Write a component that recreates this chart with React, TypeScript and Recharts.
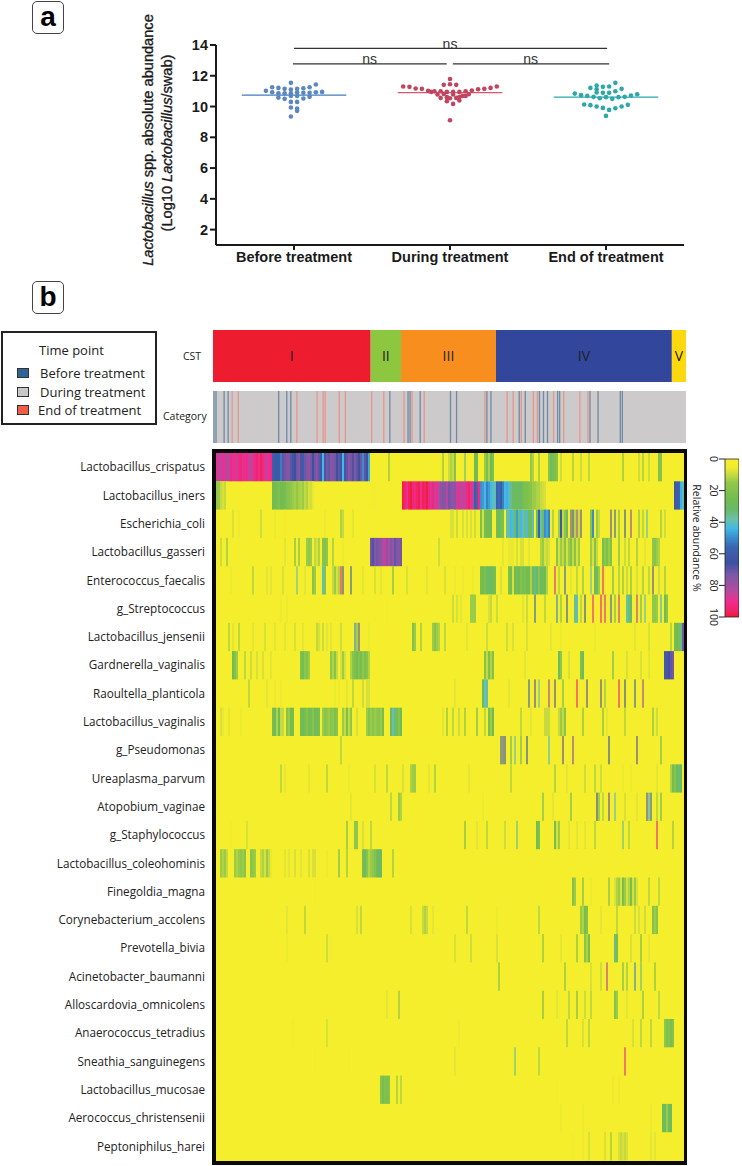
import React from "react";
import {
  Bar,
  BarChart,
  LabelList,
  ReferenceDot,
  ReferenceLine,
  Scatter,
  ScatterChart,
  XAxis,
  YAxis,
} from "recharts";

// panel a: swarm offsets around each group and log10 abundance
const groupNames = ["Before treatment", "During treatment", "End of treatment"];
const beforeOffsets = [-0.02, 0.14, -0.14, -0.1, -0.06, -0.02, 0.02, 0.06, 0.1, -0.18, -0.14, -0.1, -0.06, -0.02, 0.02, 0.06, 0.1, 0.14, 0.18, -0.1, -0.06, -0.02, 0.02, 0.06, 0.1, -0.02, 0.02, -0.02, 0.02, 0.02, -0.02];
const beforeValues = [11.54, 11.43, 11.25, 11.21, 11.15, 11.1, 11.15, 11.19, 11.25, 11.02, 10.93, 10.86, 10.86, 10.86, 10.93, 10.89, 10.89, 10.93, 10.95, 10.58, 10.5, 10.69, 10.69, 10.52, 10.63, 10.3, 10.3, 9.94, 9.87, 9.72, 9.35];
const duringOffsets = [-0.3, -0.26, -0.22, -0.18, -0.14, -0.1, -0.12, -0.06, -0.02, 0.02, 0.06, 0.1, 0.14, 0.18, 0.22, 0.26, 0.3, 0, -0.04, 0, 0.04, -0.08, -0.04, 0.02, 0.06, 0.1, 0.12, -0.06, -0.02, 0, 0.04, 0.08, -0.02, 0.06, 0.02, 0];
const duringValues = [11.3, 11.28, 11.17, 11.15, 11.02, 10.99, 10.95, 10.99, 10.95, 10.95, 10.95, 10.99, 11.04, 11.12, 11.15, 11.21, 11.3, 11.79, 11.41, 11.45, 11.41, 10.78, 10.82, 10.78, 10.61, 10.69, 10.8, 10.56, 10.61, 10.54, 10.56, 10.69, 10.35, 10.39, 10.17, 9.11];
const endOffsets = [0.06, -0.06, -0.1, -0.06, -0.02, 0.02, 0.1, 0.06, 0.02, -0.02, -0.06, -0.2, -0.16, -0.12, -0.08, -0.04, 0, 0.04, 0.08, 0.12, 0.16, 0.2, -0.14, -0.1, -0.06, -0.02, 0.02, 0.06, 0.1, 0.14, 0];
const endValues = [11.54, 11.36, 11.21, 11.12, 11.28, 11.3, 11.15, 10.99, 10.89, 10.89, 10.91, 10.84, 10.74, 10.69, 10.63, 10.54, 10.61, 10.5, 10.61, 10.63, 10.71, 10.8, 10.13, 10.09, 10.0, 9.91, 9.78, 9.89, 10.0, 10.11, 9.39];
const means = [10.74, 10.91, 10.61];
const yTicks = [2, 4, 6, 8, 10, 12, 14];

// panel b: samples per community state type
const cstNames = ["I", "II", "III", "IV", "V"];
const cstCounts = [78, 15, 47, 87, 7];
const cstColors = ["#ed1c2e", "#8dc63f", "#f78e1e", "#32479b", "#fdd80f"];

// sample columns that are not "during treatment"
const beforeColumns = [0, 1, 5, 7, 32, 36, 38, 87, 96, 97, 102, 117, 120, 135, 137, 151, 154, 161, 163, 165, 170, 171, 186, 190, 201, 202];
const endColumns = [9, 12, 41, 51, 54, 55, 62, 65, 78, 84, 94, 98, 104, 134, 145, 148, 152, 158, 160, 168, 173, 181, 185];

const taxa = [
  "Lactobacillus_crispatus", "Lactobacillus_iners", "Escherichia_coli", "Lactobacillus_gasseri", "Enterococcus_faecalis",
  "g_Streptococcus", "Lactobacillus_jensenii", "Gardnerella_vaginalis", "Raoultella_planticola", "Lactobacillus_vaginalis",
  "g_Pseudomonas", "Ureaplasma_parvum", "Atopobium_vaginae", "g_Staphylococcus", "Lactobacillus_coleohominis",
  "Finegoldia_magna", "Corynebacterium_accolens", "Prevotella_bivia", "Acinetobacter_baumanni", "Alloscardovia_omnicolens",
  "Anaerococcus_tetradius", "Sneathia_sanguinegens", "Lactobacillus_mucosae", "Aerococcus_christensenii", "Peptoniphilus_harei",
];

// each run is [first column, abundance, abundance, ...]; anything not listed is ~0
const crispatus = [
  [0, 88, 86, 84, 90, 88, 82, 85, 92, 88, 90, 86, 92, 94, 88, 90, 92, 86, 84, 88, 92, 95, 90, 97, 92, 88, 86, 90, 92],
  [28, 58, 60, 62, 60, 52, 70, 72, 76, 74, 70, 62, 66, 72, 76, 68, 60, 72, 74, 78, 72, 66, 72, 76, 70, 62, 44, 68, 72, 70, 76, 74, 72, 66, 70, 62, 44, 68, 70, 76, 72, 68, 74, 70, 66, 72, 50, 70, 64, 46],
  [86, 20], [113, 20], [116, 12], [117, 12, 10, 18], [124, 35], [129, 25, 25], [134, 14, 22, 12, 30, 22], [157, 15, 12], [161, 22],
  [166, 18, 28, 24, 22, 18], [172, 12], [178, 15], [182, 12], [186, 14], [203, 20], [211, 12], [213, 15], [216, 12], [221, 20, 18],
];
const iners = [
  [0, 15, 14, 10, 8, 10],
  [28, 25, 26, 24, 22, 25, 26, 24, 20, 18, 16, 14, 13, 15, 13, 12, 14, 10, 12, 8, 9, 6],
  [77, 4, 4, 4, 4],
  [93, 98, 95, 90, 97, 99, 94, 92, 96, 98, 90, 97, 95, 99, 92, 88, 93, 85, 90, 82, 78, 74, 76, 84, 72, 76, 78, 76, 86, 88, 84, 86, 85, 92, 95, 90, 82, 60, 70, 92],
  [132, 50, 48, 44, 52, 48, 44, 40, 40, 58, 55, 60, 52, 44, 45, 42, 35, 32, 30, 28, 30, 32, 24, 22, 22, 20, 18, 14, 14, 12, 12, 10, 9, 8],
  [229, 62, 60, 58, 45, 40],
];
const coli = [
  [8, 10], [11, 6], [22, 12], [29, 6], [34, 5], [54, 6], [62, 12, 10], [68, 8], [95, 4], [117, 8, 8], [120, 12], [123, 10], [125, 10], [127, 10], [129, 12],
  [132, 22, 8, 24, 26, 25, 28], [140, 25, 30, 24, 22], [145, 40, 36, 44, 42, 30, 48, 34, 44, 40, 35, 42, 30, 28, 40], [160, 30, 58, 38, 28, 50, 46, 52],
  [168, 18], [171, 14, 60, 10, 16, 28], [177, 72], [178, 65], [179, 16], [180, 76], [181, 12], [182, 70], [187, 18, 50], [190, 14, 10], [197, 70], [199, 55], [201, 25], [204, 60], [207, 78], [211, 20], [213, 14], [215, 40], [222, 18], [224, 12],
];
const gasseri = [
  [2, 12], [5, 18], [34, 8], [39, 25], [41, 24], [45, 14, 16, 14], [49, 10, 8, 12], [53, 18, 20, 16], [58, 16], [63, 6],
  [77, 72, 68, 76, 72, 74, 78, 82, 86, 76, 82, 74, 80, 70, 74, 76, 72],
  [111, 12], [143, 8], [146, 6, 6, 6], [150, 10], [152, 8, 8], [156, 8], [162, 12, 14, 8, 10, 8], [170, 18, 8, 14, 10, 18, 8, 14, 20, 10, 18, 8, 14],
  [187, 14, 8, 20, 10], [193, 24, 16, 22, 14, 20], [201, 30], [204, 12], [206, 14], [210, 18], [214, 8], [218, 16, 18, 14, 12],
];
const faecalis = [
  [7, 6], [18, 14], [25, 8], [27, 8], [33, 10], [40, 38], [44, 8], [48, 18, 14], [53, 40, 20], [58, 10, 14, 8, 12], [62, 92], [63, 60], [67, 55], [73, 8], [79, 10], [82, 8], [88, 24], [95, 10], [105, 8], [114, 10],
  [119, 6], [123, 6], [128, 6], [132, 24, 26, 22, 28, 30, 32, 26, 24], [142, 10], [146, 22, 24, 8, 26, 24, 28, 20, 24, 22, 25, 26, 12, 30, 34, 32, 18, 32, 26, 28, 12],
  [169, 88], [171, 14], [174, 55], [177, 8], [180, 14], [183, 20], [187, 40], [189, 28, 30, 14], [193, 92], [198, 30], [201, 15], [203, 20], [205, 12], [207, 22], [210, 10], [213, 18], [216, 14], [218, 70], [221, 12], [224, 18],
];
const streptococcus = [
  [32, 6], [35, 6], [79, 4], [85, 4], [118, 12], [120, 10], [122, 8], [127, 14, 14, 14], [136, 8, 10], [140, 12], [153, 8], [155, 12], [159, 55], [164, 14],
  [170, 50], [172, 20], [175, 58], [179, 36, 40], [182, 14], [184, 60], [188, 90], [192, 92], [194, 88], [197, 55], [199, 25], [201, 85], [205, 38, 34, 32], [210, 85], [212, 30], [214, 40], [218, 15, 16, 14], [222, 45], [224, 25, 18],
];
const jensenii = [
  [6, 14], [8, 8], [11, 14], [18, 8], [24, 10], [29, 8], [34, 8], [39, 10], [43, 8], [50, 14], [51, 10], [53, 12], [55, 8], [57, 8], [62, 12], [69, 50], [70, 30], [71, 70], [76, 6],
  [98, 20, 14], [102, 18], [108, 14, 18, 14, 12], [114, 14], [125, 8], [135, 12], [145, 12], [148, 10], [155, 10], [167, 8], [172, 6], [189, 6], [209, 8], [216, 10], [227, 16], [229, 26, 28, 24, 34, 72],
];
const gardnerella = [
  [8, 25, 20, 14], [14, 14], [17, 12], [20, 10], [23, 10], [27, 8], [42, 22, 24, 16, 20, 14], [57, 16, 12, 18, 10], [62, 8, 14, 8], [67, 12, 18, 22, 26, 20, 24, 16, 22, 18, 12],
  [134, 18, 10, 22, 12, 20], [154, 8], [171, 30, 16], [176, 10], [182, 22, 30], [198, 30], [205, 10], [212, 10], [216, 8], [224, 60, 68, 66, 70, 72],
];
const raoultella = [
  [16, 14], [25, 8], [29, 6], [32, 6], [59, 6], [61, 6], [65, 8], [68, 14], [73, 12], [75, 8, 8],
  [119, 8], [133, 30, 38, 40], [146, 8], [156, 55], [159, 70], [161, 40], [166, 80], [169, 70], [173, 25], [180, 92], [185, 70], [192, 70], [194, 20], [201, 92], [204, 60], [209, 55], [213, 80],
];
const vaginalis = [
  [2, 8, 6], [6, 8], [12, 6], [28, 24, 28, 12, 30, 10, 10], [35, 18, 14, 26, 24], [42, 26, 28, 24, 18, 26, 24, 18, 28, 26, 24], [53, 14, 18, 16, 14, 18, 16, 22, 18], [63, 14, 10, 22, 10, 16], [70, 10],
  [75, 14, 20, 14, 18, 14, 16, 18, 14, 24], [87, 32, 38, 34, 24, 18, 30], [113, 8], [115, 20], [118, 14], [121, 12], [124, 20], [130, 30], [134, 14], [136, 22, 14, 28], [152, 14], [157, 8], [164, 10, 10, 10], [171, 10, 14, 10, 18], [183, 22], [193, 24], [195, 8], [204, 14], [218, 22], [220, 12],
];
const pseudomonas = [
  [7, 4], [62, 14], [142, 55], [143, 70], [144, 60], [147, 30], [149, 40], [152, 30], [155, 60], [166, 42], [173, 70], [178, 75], [196, 60], [210, 70], [222, 28],
];
const ureaplasma = [
  [32, 14], [34, 8], [46, 8], [55, 14], [66, 6], [79, 10], [85, 14], [93, 10], [97, 12, 14, 14], [106, 8], [109, 18], [126, 8], [147, 14], [169, 16], [175, 8], [184, 12], [189, 14], [192, 12], [203, 6], [207, 6], [220, 8], [227, 12, 24, 18, 28, 34, 30],
];
const atopobium = [
  [67, 8], [87, 14], [91, 14, 12], [133, 6], [163, 28], [168, 8], [177, 28], [190, 65], [191, 30], [193, 14], [196, 70], [199, 40], [204, 10], [210, 8], [215, 70], [216, 45], [217, 55], [220, 14], [222, 30],
];
const staphylococcus = [
  [7, 5], [15, 10], [65, 25], [69, 16, 16], [73, 10], [77, 14], [124, 24], [130, 8], [135, 14], [144, 12], [150, 35], [160, 26, 22], [169, 24, 8, 14], [176, 8], [180, 8], [184, 8], [189, 14], [203, 36], [206, 14], [220, 92], [228, 18],
];
const coleohominis = [
  [2, 14, 12, 14, 10], [9, 14, 12, 14, 16, 14, 18], [17, 18, 16, 14], [22, 10, 12, 8, 14, 10, 6], [34, 8], [36, 8], [39, 10], [42, 8], [46, 10], [48, 8, 8], [55, 6], [61, 30], [65, 18], [73, 24, 30, 18, 12, 14, 16, 20, 26, 32, 30], [88, 18],
];
const finegoldia = [
  [49, 3], [59, 3], [178, 20, 14], [183, 24], [187, 6], [196, 24], [199, 8, 12, 14, 8, 24, 14, 8, 12, 24, 8, 14, 8], [216, 14], [221, 14],
];
const corynebacterium = [
  [35, 8], [44, 14], [70, 10], [72, 14], [97, 10], [103, 10, 12, 10], [108, 8], [125, 14], [140, 6], [161, 14], [182, 14, 12, 24, 20], [192, 8], [200, 14], [209, 12], [211, 10], [214, 12], [218, 18, 14, 18],
];
const prevotella = [
  [35, 6], [55, 12], [57, 5], [119, 10], [127, 12], [140, 10], [163, 20], [172, 8], [180, 22], [184, 18, 12, 24], [199, 35, 24], [207, 10], [212, 24], [216, 8],
];
const acinetobacter = [
  [141, 22], [174, 22], [187, 10], [192, 12], [195, 85], [203, 28], [205, 18], [209, 50], [212, 35], [219, 22],
];
const alloscardovia = [
  [85, 8], [91, 18], [163, 24], [170, 8], [176, 14], [180, 24], [184, 12], [187, 14], [199, 18, 14], [205, 8], [213, 22], [221, 14],
];
const anaerococcus = [
  [38, 5], [55, 10], [121, 6], [175, 14], [183, 10], [186, 14], [208, 10], [212, 14], [217, 14], [224, 16, 22, 18, 24, 20],
];
const sneathia = [[49, 4], [66, 4], [83, 4], [119, 8], [149, 36], [161, 14], [204, 90]];
const mucosae = [[82, 18, 24, 20, 22, 20], [90, 16], [92, 14], [170, 4], [198, 6], [201, 6]];
const aerococcus = [[172, 6], [183, 6], [217, 6], [223, 28, 30, 14, 28, 30]];
const peptoniphilus = [[178, 5], [183, 6], [186, 10], [194, 10], [197, 16], [201, 8, 10, 8, 10, 8], [217, 8], [219, 8]];

const rows = [
  crispatus, iners, coli, gasseri, faecalis, streptococcus, jensenii, gardnerella, raoultella, vaginalis, pseudomonas, ureaplasma, atopobium,
  staphylococcus, coleohominis, finegoldia, corynebacterium, prevotella, acinetobacter, alloscardovia, anaerococcus, sneathia, mucosae, aerococcus, peptoniphilus,
];
const colorbarTicks = [0, 20, 40, 60, 80, 100];

const COLUMNS = 234;
const HEAT_W = 468;
const HEAT_H = 707.5;
const CELL_W = HEAT_W / COLUMNS;
const CELL_H = HEAT_H / rows.length;
const THIN_W = 1.2;
const YELLOW = "#f5ee2c";

const ramp: [number, string][] = [
  [0, YELLOW], [5, "#f2ec30"], [10, "#c6da40"], [15, "#90c84a"], [25, "#74bc50"], [32, "#68ba68"], [38, "#6cc0a8"], [44, "#42b8e6"], [50, "#3a8ccc"],
  [56, "#3a64b0"], [66, "#3f50a0"], [73, "#7a58a8"], [83, "#b04ca0"], [90, "#f02c90"], [96, "#f0246a"], [100, "#ee1c30"],
];

function hexToRgb(hex: string) {
  return [1, 3, 5].map((i) => parseInt(hex.slice(i, i + 2), 16));
}

function abundanceColor(v: number) {
  for (let i = 1; i < ramp.length; i++) {
    if (v <= ramp[i][0]) {
      const t = (v - ramp[i - 1][0]) / (ramp[i][0] - ramp[i - 1][0]);
      const a = hexToRgb(ramp[i - 1][1]);
      const b = hexToRgb(ramp[i][1]);
      return `rgb(${a.map((c, k) => Math.round(c + (b[k] - c) * t)).join(",")})`;
    }
  }
  return ramp[ramp.length - 1][1];
}

// a run of one sample reads as a hairline in the figure
const heatCells = rows.flatMap((runs, row) =>
  runs.flatMap(([start, ...values]) =>
    values.map((value, k) => ({ col: start + k + 0.5, row: row + 0.5, value, thin: values.length === 1 }))
  )
);

const swarm = (center: number, offsets: number[], values: number[]) =>
  offsets.map((o, i) => ({ x: center + o, y: values[i] }));

const categoryRows = Array.from({ length: COLUMNS }, (_, col) => ({
  col,
  v: 1,
  group: beforeColumns.includes(col) ? "before" : endColumns.includes(col) ? "end" : "during",
}));
const categoryColors: Record<string, string> = { before: "#6f8aa6", during: "#cccaca", end: "#e8958a" };
const cstRow = [Object.fromEntries(cstNames.map((n, i) => [n, cstCounts[i]]))];

const groupStyles = [
  { dot: "#5b86c0", line: "#3f7cc0" },
  { dot: "#c2455f", line: "#d9566c" },
  { dot: "#2ca8a8", line: "#2aa9b0" },
];

const sans = "'Liberation Sans', Arial, sans-serif";
const humanist = "'Open Sans', sans-serif";

function Dot({ cx, cy, fill }: any) {
  return <circle cx={cx} cy={cy} r={2.3} fill={fill} />;
}

function HeatCell({ cx, cy, payload }: any) {
  const w = payload.thin ? THIN_W : CELL_W;
  return <rect x={cx - w / 2} y={cy - CELL_H / 2} width={w} height={CELL_H} fill={abundanceColor(payload.value)} />;
}

function CategoryBar({ x, y, width, height, payload }: any) {
  if (payload.group === "during") return <g />;
  const w = 1.3;
  return <rect x={x + (width - w) / 2} y={y} width={w} height={height} fill={categoryColors[payload.group]} />;
}

function ColorbarTick({ x, y, payload }: any) {
  return (
    <text x={x} y={y} transform={`rotate(90 ${x} ${y})`} textAnchor="middle" dy={4} fontSize={10.5} fontFamily={humanist} fill="#222">
      {payload.value}
    </text>
  );
}

function Badge({ top, letter }: { top: number; letter: string }) {
  return (
    <div style={{ position: "absolute", left: 32, top, width: 30, height: 31, border: "1px solid #444", borderRadius: 5, background: "#fff", textAlign: "center", fontFamily: sans, fontWeight: 700, fontSize: 28, lineHeight: "29px", color: "#000" }}>
      {letter}
    </div>
  );
}

function place(left: number, top: number): React.CSSProperties {
  return { position: "absolute", left, top };
}

function LegendBox() {
  const items = [
    { label: "Before treatment", color: "#2f6493", x: 38 },
    { label: "During treatment", color: "#c8c8c8", x: 38 },
    { label: "End of treatment", color: "#ef5f48", x: 36 },
  ];
  return (
    <div style={{ ...place(1, 331), width: 152, height: 90, border: "2px solid #222", fontFamily: humanist, fontSize: 13, color: "#222" }}>
      <div style={{ ...place(36, 8), whiteSpace: "nowrap" }}>Time point</div>
      {items.map((it, i) => (
        <React.Fragment key={it.label}>
          <div style={{ ...place(14, 35 + i * 18.5), width: 10, height: 8, background: it.color, border: "1.5px solid #333" }} />
          <div style={{ ...place(it.x - 1, 31 + i * 18.5), whiteSpace: "nowrap" }}>{it.label}</div>
        </React.Fragment>
      ))}
    </div>
  );
}

export default function App() {
  return (
    <div style={{ position: "absolute", left: 0, top: 0, width: 742, height: 1166, background: "#fff", overflow: "hidden" }}>
      {/* panel a */}
      <div style={place(0, 0)}>
        <ScatterChart width={742} height={280} margin={{ top: 45, right: 58, bottom: 0, left: 156 }}>
          <XAxis
            type="number"
            dataKey="x"
            domain={[0.5, 3.5]}
            ticks={[1, 2, 3]}
            tickFormatter={(v) => groupNames[v - 1]}
            height={35}
            stroke="#1a1a1a"
            strokeWidth={2}
            tickSize={5}
            tick={{ fontSize: 14.5, fontWeight: 700, fontFamily: sans, fill: "#1a1a1a" }}
            interval={0}
          />
          <YAxis
            type="number"
            dataKey="y"
            domain={[1, 14]}
            ticks={yTicks}
            width={60}
            stroke="#1a1a1a"
            strokeWidth={2}
            tickSize={6}
            tick={{ fontSize: 14.5, fontWeight: 700, fontFamily: sans, fill: "#1a1a1a" }}
            interval={0}
          />
          {[swarm(1, beforeOffsets, beforeValues), swarm(2, duringOffsets, duringValues), swarm(3, endOffsets, endValues)].map((pts, i) => (
            <Scatter key={groupNames[i]} data={pts} fill={groupStyles[i].dot} shape={Dot} isAnimationActive={false} />
          ))}
          {means.map((m, i) => (
            <ReferenceLine key={i} segment={[{ x: i + 1 - 0.335, y: m }, { x: i + 1 + 0.335, y: m }]} stroke={groupStyles[i].line} strokeWidth={1.2} />
          ))}
          <ReferenceLine segment={[{ x: 1, y: 13.78 }, { x: 3.007, y: 13.78 }]} stroke="#333" strokeWidth={1.2} />
          <ReferenceLine segment={[{ x: 0.993, y: 12.77 }, { x: 1.979, y: 12.77 }]} stroke="#333" strokeWidth={1.2} />
          <ReferenceLine segment={[{ x: 2.018, y: 12.77 }, { x: 3.02, y: 12.77 }]} stroke="#333" strokeWidth={1.2} />
          {[
            { x: 2, y: 14.09 },
            { x: 1.485, y: 13.09 },
            { x: 2.517, y: 13.09 },
          ].map((p) => (
            <ReferenceDot
              key={p.x}
              x={p.x}
              y={p.y}
              r={0}
              ifOverflow="visible"
              stroke="none"
              label={{ value: "ns", position: "center", fontSize: 14, fontFamily: sans, fill: "#333" }}
            />
          ))}
        </ScatterChart>
      </div>
      <svg width={60} height={285} style={place(135, 0)}>
        <g fontFamily={sans} fontSize={14.6} fontWeight={400} stroke="#1a1a1a" strokeWidth={0.35} fill="#1a1a1a" textAnchor="middle">
          <text transform="translate(18 140) rotate(-90)">
            <tspan fontStyle="italic">Lactobacillus</tspan> spp. absolute abundance
          </text>
          <text transform="translate(37 143) rotate(-90)">
            (Log10 <tspan fontStyle="italic">Lactobacillus</tspan>/swab)
          </text>
        </g>
      </svg>
      <Badge top={1} letter="a" />
      <Badge top={281} letter="b" />

      {/* panel b header */}
      <LegendBox />
      <div style={{ ...place(183, 349), fontFamily: humanist, fontSize: 10.5, color: "#222" }}>CST</div>
      <div style={{ ...place(163, 409), fontFamily: humanist, fontSize: 10.5, color: "#222" }}>Category</div>

      <div style={place(213, 330)}>
        <BarChart width={473} height={52} layout="vertical" data={cstRow} margin={{ top: 0, right: 0, bottom: 0, left: 0 }} barCategoryGap={0}>
          <XAxis type="number" domain={[0, COLUMNS]} hide />
          <YAxis type="category" hide />
          {cstNames.map((n, i) => (
            <Bar key={n} dataKey={n} stackId="cst" fill={cstColors[i]} isAnimationActive={false}>
              <LabelList dataKey={n} position="center" formatter={() => n} fontSize={14} fontFamily={humanist} fill="#222" />
            </Bar>
          ))}
        </BarChart>
      </div>

      <div style={{ ...place(213, 391), width: 473, height: 52, background: categoryColors.during }}>
        <BarChart width={473} height={52} data={categoryRows} margin={{ top: 0, right: 0, bottom: 0, left: 0 }} barCategoryGap={0}>
          <XAxis dataKey="col" hide />
          <YAxis domain={[0, 1]} hide />
          <Bar dataKey="v" shape={CategoryBar} isAnimationActive={false} />
        </BarChart>
      </div>

      {/* heatmap */}
      <div style={{ ...place(212, 449), width: 468, height: 707.5, border: "4px solid #0a0a0a", borderRightWidth: 3, borderBottomWidth: 4, background: YELLOW }} />
      <div style={place(0, 453)}>
        <ScatterChart width={684} height={HEAT_H} margin={{ top: 0, right: 0, bottom: 0, left: 0 }}>
          <XAxis type="number" dataKey="col" domain={[0, COLUMNS]} hide />
          <YAxis
            type="number"
            dataKey="row"
            domain={[0, taxa.length]}
            reversed
            width={216}
            axisLine={false}
            tickLine={false}
            ticks={taxa.map((_, i) => i + 0.5)}
            interval={0}
            tickFormatter={(v) => taxa[Math.floor(v)]}
            tickMargin={5}
            tick={{ fontSize: 11.7, fontFamily: humanist, fill: "#222" }}
          />
          <Scatter data={heatCells} shape={HeatCell} isAnimationActive={false} />
        </ScatterChart>
      </div>

      {/* colour bar */}
      <div style={place(680, 439)}>
        <BarChart width={59} height={198} data={[{ name: "scale", v: 100 }]} margin={{ top: 20, right: 0, bottom: 20, left: 0 }} barCategoryGap={0}>
          <defs>
            <linearGradient id="abundanceRamp" x1="0" y1="0" x2="0" y2="1">
              {ramp.map(([at, color]) => (
                <stop key={at} offset={`${at}%`} stopColor={color} />
              ))}
            </linearGradient>
          </defs>
          <XAxis dataKey="name" hide />
          <YAxis
            type="number"
            domain={[0, 100]}
            reversed
            ticks={colorbarTicks}
            interval={0}
            width={45}
            axisLine={false}
            stroke="#222"
            tickSize={6}
            tickMargin={5}
            tick={ColorbarTick}
            label={{ value: "Relative abundance %", angle: 90, position: "insideLeft", offset: 17, textAnchor: "middle", fontSize: 10.5, fontFamily: humanist, fill: "#222" }}
          />
          <Bar dataKey="v" fill="url(#abundanceRamp)" stroke="#222" strokeWidth={0.8} isAnimationActive={false} />
        </BarChart>
      </div>
    </div>
  );
}
